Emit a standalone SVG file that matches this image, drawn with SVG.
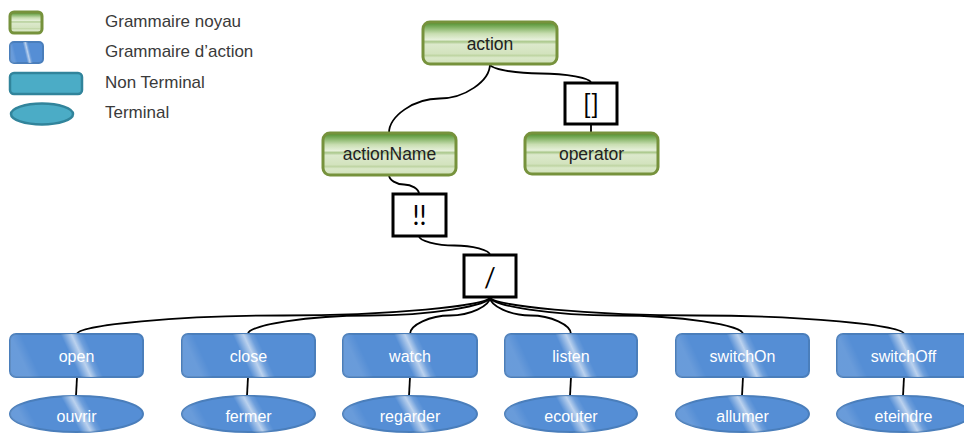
<svg xmlns="http://www.w3.org/2000/svg" width="964" height="433" viewBox="0 0 964 433">
<style>
.t{font-family:"Liberation Sans",Arial,sans-serif;font-size:16px;text-anchor:middle}
.g{font-size:17.5px}
.lg{font-family:"Liberation Sans",Arial,sans-serif;font-size:17px;fill:#3a3a3a}
.gn{fill:url(#gG);stroke:#76923C;stroke-width:3}
.gt{fill:#222}
.bn{fill:#558ED5;stroke:#4A7EBB;stroke-width:2}
.gl{fill:url(#gloss)}
.bt{fill:#fff}
.box{fill:#fff;stroke:#000;stroke-width:3}
.bx{font-family:Lato,"Liberation Sans",sans-serif;font-size:26px;text-anchor:middle;fill:#000}
.c{fill:none;stroke:#000;stroke-width:1.8}
.tl{fill:#4BACC6;stroke:#31849B;stroke-width:2.5}
</style>
<defs>
<linearGradient id="gG" x1="0" y1="0" x2="0" y2="1">
<stop offset="0" stop-color="#4C8B2B"/>
<stop offset="0.12" stop-color="#7FB060"/>
<stop offset="0.28" stop-color="#C9DEB2"/>
<stop offset="0.42" stop-color="#E6F0DA"/>
<stop offset="0.47" stop-color="#A9C78A"/>
<stop offset="0.53" stop-color="#DCE9CC"/>
<stop offset="0.75" stop-color="#D3E3BE"/>
<stop offset="0.8" stop-color="#BFD5A3"/>
<stop offset="0.85" stop-color="#DAE8C8"/>
<stop offset="1" stop-color="#D0E1BA"/>
</linearGradient>
<linearGradient id="gloss" x1="0" y1="0" x2="1" y2="-0.15">
<stop offset="0" stop-color="#fff" stop-opacity="0.12"/>
<stop offset="0.08" stop-color="#fff" stop-opacity="0"/>
<stop offset="0.37" stop-color="#fff" stop-opacity="0"/>
<stop offset="0.45" stop-color="#fff" stop-opacity="0.6"/>
<stop offset="0.5" stop-color="#fff" stop-opacity="0.15"/>
<stop offset="0.54" stop-color="#fff" stop-opacity="0"/>
<stop offset="1" stop-color="#fff" stop-opacity="0"/>
</linearGradient>
</defs>

<g id="legend">
<rect x="10" y="12" width="32" height="21" rx="4" class="gn"/>
<rect x="10" y="42" width="33" height="21" rx="4" class="bn"/>
<rect x="10" y="42" width="33" height="21" rx="4" class="gl"/>
<rect x="10" y="73" width="72" height="21" rx="4" class="tl"/>
<ellipse cx="42" cy="114" rx="31" ry="10.5" class="tl"/>
<text x="105" y="27" class="lg">Grammaire noyau</text>
<text x="105" y="57" class="lg">Grammaire d’action</text>
<text x="105" y="88" class="lg">Non Terminal</text>
<text x="105" y="118" class="lg">Terminal</text>
</g>

<g id="connectors">
<path class="c" d="M490,64 C490,81 464.75,98.5 439.5,98.5 C414.25,98.5 389,116 389,133"/>
<path class="c" d="M490,64 C490,69 515,73.5 540.5,73.5 C566,73.5 591,78 591,83"/>
<path class="c" d="M591,124 L591,133"/>
<path class="c" d="M389,175 C389,180 396.5,184.5 404,184.5 C411.5,184.5 419,189 419,194"/>
<path class="c" d="M419,236 C419,241 436.75,245.5 454.5,245.5 C472.25,245.5 490,250 490,255"/>
<path class="c" d="M490,297 C490,306 386.75,315.5 283.5,315.5 C180.25,315.5 77,325 77,334"/>
<path class="c" d="M490,297 C490,306 429.5,315.5 369,315.5 C308.5,315.5 248,325 248,334"/>
<path class="c" d="M490,297 C490,306 470,315.5 450,315.5 C430,315.5 410,325 410,334"/>
<path class="c" d="M490,297 C490,306 510.25,315.5 530.5,315.5 C550.75,315.5 571,325 571,334"/>
<path class="c" d="M490,297 C490,306 553.25,315.5 616.5,315.5 C679.75,315.5 743,325 743,334"/>
<path class="c" d="M490,297 C490,306 593.5,315.5 697,315.5 C800.5,315.5 904,325 904,334"/>
<path class="c" d="M77,377 L76,396"/>
<path class="c" d="M248,377 L247,396"/>
<path class="c" d="M410,377 L409,396"/>
<path class="c" d="M571,377 L570,396"/>
<path class="c" d="M743,377 L742,396"/>
<path class="c" d="M904,377 L903,396"/>
</g>

<g id="action"><rect x="423" y="22" width="134" height="42" rx="7" class="gn"/><text x="490" y="50" class="t g gt">action</text></g>
<g id="actionName"><rect x="323" y="133" width="133" height="42" rx="7" class="gn"/><text x="389.5" y="160" class="t g gt">actionName</text></g>
<g id="operator"><rect x="525" y="133" width="133" height="41" rx="7" class="gn"/><text x="591.5" y="160" class="t g gt">operator</text></g>

<g id="op-brackets"><rect x="565" y="83" width="52" height="41" class="box"/><text x="591" y="114" class="bx">[]</text></g>
<g id="op-bang"><rect x="393" y="194" width="53" height="42" class="box"/><text x="419.5" y="225" class="bx">!!</text></g>
<g id="op-slash"><rect x="464" y="255" width="52" height="42" class="box"/><text x="490" y="287" class="bx">/</text></g>

<g id="open"><rect x="10" y="334" width="133" height="43" rx="6" class="bn"/><rect x="10" y="334" width="133" height="43" rx="6" class="gl"/><text x="76.5" y="362" class="t bt">open</text></g>
<g id="close"><rect x="182" y="334" width="133" height="43" rx="6" class="bn"/><rect x="182" y="334" width="133" height="43" rx="6" class="gl"/><text x="248.5" y="362" class="t bt">close</text></g>
<g id="watch"><rect x="343" y="334" width="134" height="43" rx="6" class="bn"/><rect x="343" y="334" width="134" height="43" rx="6" class="gl"/><text x="410" y="362" class="t bt">watch</text></g>
<g id="listen"><rect x="505" y="334" width="132" height="43" rx="6" class="bn"/><rect x="505" y="334" width="132" height="43" rx="6" class="gl"/><text x="571" y="362" class="t bt">listen</text></g>
<g id="switchOn"><rect x="676" y="334" width="133" height="43" rx="6" class="bn"/><rect x="676" y="334" width="133" height="43" rx="6" class="gl"/><text x="742.5" y="362" class="t bt">switchOn</text></g>
<g id="switchOff"><rect x="837" y="334" width="133" height="43" rx="6" class="bn"/><rect x="837" y="334" width="133" height="43" rx="6" class="gl"/><text x="903.5" y="362" class="t bt">switchOff</text></g>

<g id="ouvrir"><ellipse cx="76.5" cy="414" rx="66.5" ry="18" class="bn"/><ellipse cx="76.5" cy="414" rx="66.5" ry="18" class="gl"/><text x="76.5" y="422" class="t bt">ouvrir</text></g>
<g id="fermer"><ellipse cx="248.5" cy="414" rx="66.5" ry="18" class="bn"/><ellipse cx="248.5" cy="414" rx="66.5" ry="18" class="gl"/><text x="248.5" y="422" class="t bt">fermer</text></g>
<g id="regarder"><ellipse cx="410" cy="414" rx="67" ry="18" class="bn"/><ellipse cx="410" cy="414" rx="67" ry="18" class="gl"/><text x="410" y="422" class="t bt">regarder</text></g>
<g id="ecouter"><ellipse cx="571" cy="414" rx="66" ry="18" class="bn"/><ellipse cx="571" cy="414" rx="66" ry="18" class="gl"/><text x="571" y="422" class="t bt">ecouter</text></g>
<g id="allumer"><ellipse cx="742.5" cy="414" rx="66.5" ry="18" class="bn"/><ellipse cx="742.5" cy="414" rx="66.5" ry="18" class="gl"/><text x="742.5" y="422" class="t bt">allumer</text></g>
<g id="eteindre"><ellipse cx="903.5" cy="414" rx="66.5" ry="18" class="bn"/><ellipse cx="903.5" cy="414" rx="66.5" ry="18" class="gl"/><text x="903.5" y="422" class="t bt">eteindre</text></g>
</svg>
